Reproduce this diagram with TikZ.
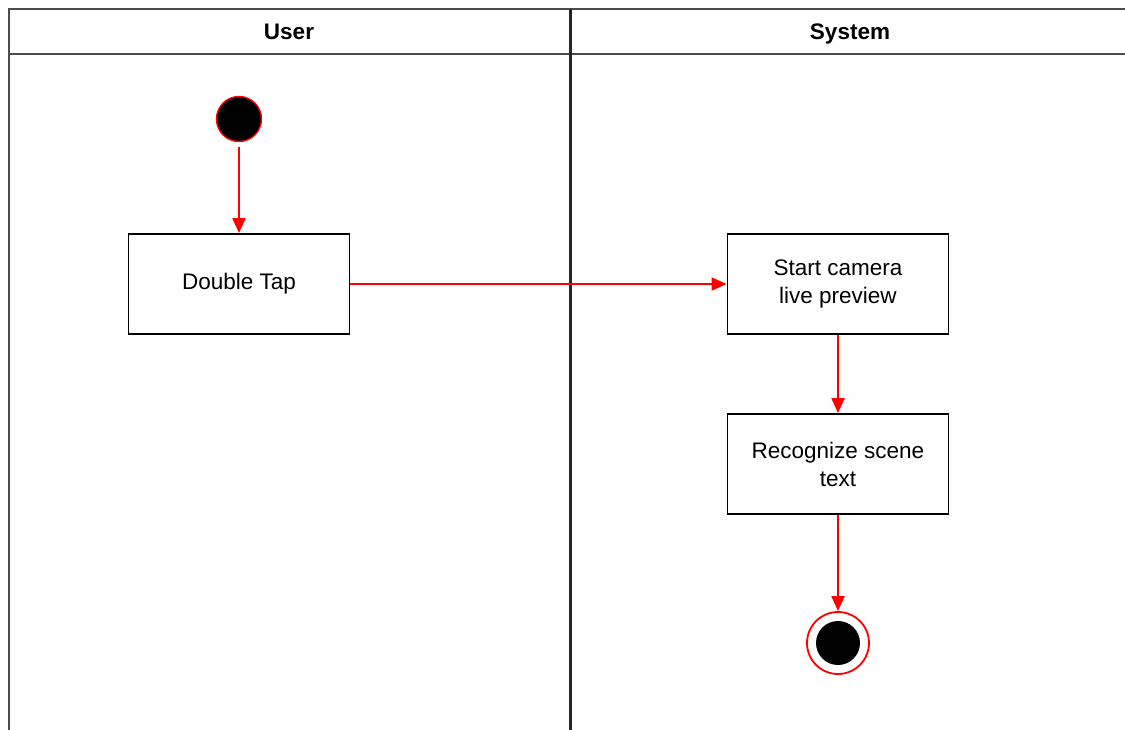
\documentclass[tikz,border=0pt]{standalone}
\usepackage{fontspec}
\setmainfont{Liberation Sans}
\usetikzlibrary{arrows.meta}
\begin{document}
\begin{tikzpicture}[x=1pt,y=-1pt,
  lane/.style={draw=black!70,line width=2.6pt},
  action/.style={draw=black,line width=1.8pt,fill=white,minimum width=221pt,minimum height=100pt,
    align=center,font=\fontsize{22.5}{28}\selectfont,inner sep=0pt},
  flow/.style={draw=red,line width=1.8pt,-{Triangle[length=15pt,width=13pt]}},
  head/.style={font=\fontsize{22.5}{26}\selectfont\bfseries,anchor=base}]
\useasboundingbox (0,0) rectangle (1125,729);
\begin{scope}
\clip (0,0) rectangle (1125,729);
% swimlane frame
\draw[lane] (9,740) -- (9,9) -- (1140,9);
\draw[lane] (9,54) -- (1140,54);
\draw[lane,draw=black!85,line width=3pt] (570,9) -- (570,740);
\end{scope}
\node[head] (huser) at (289,39) {User};
\node[head] (hsys) at (850,39) {System};
% start and final states
\node[circle,fill=black,draw=red,line width=1.4pt,minimum size=45pt,inner sep=0pt] (start) at (239,119) {};
\node[action] (tap) at (239,284) {Double Tap};
\node[action] (cam) at (838,284) {Start camera\\live preview};
\node[action] (rec) at (838,464) {Recognize scene\\text};
\node[circle,draw=red,line width=1.8pt,minimum size=62pt,inner sep=0pt] (stop) at (838,643) {};
\node[circle,fill=black,minimum size=44pt,inner sep=0pt] (stopin) at (stop.center) {};
% transitions
\draw[flow] (start.south) ++(0,5) -- (tap.north);
\draw[flow] (tap.east) -- (cam.west);
\draw[flow] (cam.south) -- (rec.north);
\draw[flow] (rec.south) -- (stop.north);
\end{tikzpicture}
\end{document}
